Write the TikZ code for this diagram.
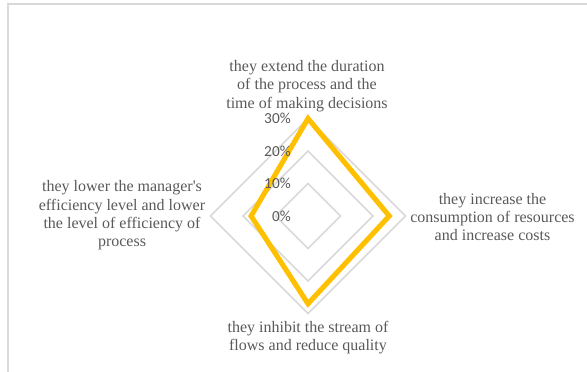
\documentclass[tikz,border=0pt]{standalone}
\usepackage{fontspec}
\setmainfont{Liberation Serif}
\newfontfamily\pctfont{Carlito}
\usetikzlibrary{positioning}
\definecolor{gridgray}{HTML}{D9D9D9}
\definecolor{labelgray}{HTML}{595959}
\definecolor{seriesgold}{HTML}{FFC000}
\tikzset{
    axislabel/.style={text=labelgray, align=center, inner sep=0, font=\fontsize{12}{13.8}\selectfont},
    pctlabel/.style={text=labelgray, anchor=east, inner sep=0, font=\pctfont\fontsize{11.5}{12}\selectfont},
    ring/.style={gridgray, line width=1.1pt}
}

\begin{document}
\begin{tikzpicture}[x=0.75pt, y=0.75pt]
    \useasboundingbox(0, 0)rectangle(587, 372);
    \draw[gridgray, line width=1.5pt](8, 0)--(8, 368)--(587, 368);
    \coordinate(c) at(308, 156);
    \foreach \r in {32.5, 65, 97.5}
        \draw[ring](c)++(0, \r)--++(\r, -\r)--++(-\r, -\r)--++(-\r, \r)--cycle;
    \coordinate(v1) at(308, 253.5);
    \coordinate(v2) at(389.25, 156);
    \coordinate(v3) at(308, 68.25);
    \coordinate(v4) at(251.1, 156);
    \draw[seriesgold, line width=3.8pt, line join=miter](v1)--(v2)--(v3)--(v4)--cycle;
    \node[pctlabel](p0) at(291, 156){0\%};
    \node[pctlabel](p1) at(291, 188.5){10\%};
    \node[pctlabel](p2) at(291, 221){20\%};
    \node[pctlabel](p3) at(291, 253.5){30\%};
    \node[axislabel](top) at(307, 286){they extend the duration\\of the process and the\\time of making decisions};
    \node[axislabel](right) at(492.5, 155){they increase the\\consumption of resources\\and increase costs};
    \node[axislabel](bottom) at(308, 34.5){they inhibit the stream of\\flows and reduce quality};
    \node[axislabel](left) at(122, 156.5){they lower the manager\textquotesingle s\\efficiency level and lower\\the level of efficiency of\\process};
\end{tikzpicture}
\end{document}
